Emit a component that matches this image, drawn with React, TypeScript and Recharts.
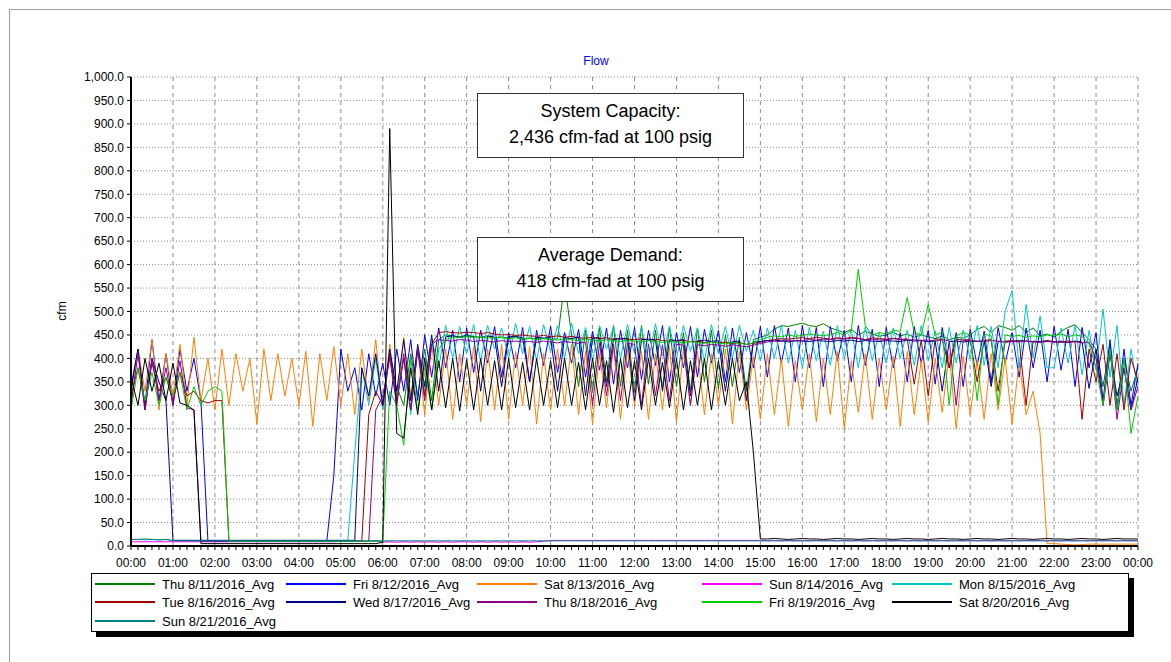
import React from 'react';
import { LineChart, Line, XAxis, YAxis, CartesianGrid } from 'recharts';

// 10-minute samples, 00:00 .. 24:00 (145 points per day)
const minutes = Array.from({ length: 145 }, (_, i) => i * 10);
const hourTicks = minutes.filter((m) => m % 60 === 0);
const yTicks = [0, 50, 100, 150, 200, 250, 300, 350, 400, 450, 500, 550, 600, 650, 700, 750, 800, 850, 900, 950, 1000];

const thu11 = [
  null, null, null, null, null, null,
  null, null, null, null, null, null,
  null, null, null, null, null, null,
  null, null, null, null, null, null,
  null, null, null, null, null, null,
  null, null, null, null, null, null,
  null, null, 340, 300, 410, 320,
  420, 310, 440, 450, 448, 446,
  450, 447, 445, 448, 444, 446,
  443, 446, 440, 444, 441, 443,
  440, 442, 560, 450, 340, 460,
  330, 465, 350, 470, 340, 460,
  330, 470, 345, 460, 335, 468,
  340, 455, 330, 465, 350, 460,
  335, 450, 340, 445, 330, 440,
  445, 450, 462, 470, 468, 472,
  475, 470, 468, 474, 465, 460,
  455, 462, 450, 458, 452, 447,
  450, 456, 448, 452, 445, 450,
  446, 442, 448, 440, 445, 443,
  450, 462, 468, 455, 470, 466,
  460, 470, 455, 465, 448, 452,
  445, 458, 466, 472, 455, 440,
  420, 340, 430, 300, 400, 330,
  380,
];

const fri12 = [
  330, 420, 300, 440, 310, 410,
  300, 420, 330, 400, 310, 10,
  10, 10, 10, 10, 10, 10,
  10, 10, 10, 10, 10, 10,
  10, 10, 10, 10, 10, 150,
  420, 330, 380, 290, 410, 320,
  390, 300, 420, 330, 440, 310,
  450, 360, 465, 380, 460, 350,
  465, 370, 460, 390, 468, 360,
  455, 380, 466, 350, 460, 385,
  468, 370, 455, 390, 462, 360,
  458, 375, 465, 345, 460, 380,
  466, 355, 460, 385, 470, 350,
  455, 380, 468, 360, 462, 390,
  460, 350, 465, 370, 455, 380,
  468, 360, 470, 390, 465, 350,
  470, 380, 466, 340, 468, 395,
  460, 350, 470, 385, 462, 340,
  466, 380, 455, 350, 468, 390,
  460, 345, 466, 380, 455, 340,
  462, 385, 458, 350, 466, 390,
  455, 360, 465, 380, 460, 350,
  468, 375, 462, 340, 466, 380,
  455, 310, 440, 290, 420, 300,
  390,
];

const sat13 = [
  300, 420, 330, 440, 290, 410,
  320, 430, 300, 445, 310, 400,
  290, 420, 300, 410, 330, 400,
  260, 420, 310, 410, 320, 400,
  300, 415, 255, 410, 310, 425,
  300, 410, 280, 420, 310, 440,
  290, 430, 300, 445, 320, 420,
  280, 430, 300, 420, 270, 410,
  300, 425, 265, 420, 290, 430,
  270, 415, 300, 425, 260, 410,
  290, 420, 300, 430, 280, 415,
  260, 410, 295, 425, 270, 420,
  300, 415, 270, 410, 290, 425,
  265, 420, 300, 415, 280, 410,
  300, 420, 260, 415, 290, 405,
  270, 410, 280, 400, 255, 395,
  290, 410, 265, 400, 280, 415,
  250, 395, 285, 410, 270, 400,
  290, 405, 255, 415, 280, 395,
  265, 400, 285, 410, 250, 405,
  280, 395, 270, 410, 290, 400,
  260, 395, 280, 330, 240, 5,
  5, 4, 3, 2, 3, 4,
  4, 4, 4, 4, 4, 4,
  4,
];

const sun14 = [
  9, 9, 9, 9, 9, 9,
  9, 9, 9, 9, 9, 9,
  9, 9, 9, 9, 9, 9,
  9, 9, 9, 9, 9, 9,
  9, 9, 9, 9, 9, 9,
  10, 11, 12, 11, 10, 12,
  8, 9, 8, 9, 8, 9,
  8, 9, 8, 9, 8, 9,
  9, 8, 9, 8, 9, 8,
  9, 8, 9, 8, 9, 10,
  12, 12, 12, 12, 12, 12,
  12, 12, 12, 12, 12, 12,
  12, 12, 12, 12, 12, 12,
  12, 12, 12, 12, 12, 12,
  12, 12, 12, 12, 12, 12,
  12, 11, 12, 11, 12, 11,
  12, 11, 12, 11, 12, 11,
  12, 11, 12, 11, 12, 11,
  12, 11, 12, 11, 12, 11,
  12, 11, 12, 11, 12, 11,
  12, 11, 12, 11, 12, 11,
  12, 11, 12, 11, 12, 11,
  12, 11, 12, 11, 12, 11,
  12, 11, 12, 11, 12, 11,
  12,
];

const mon15 = [
  14, 14, 13, 14, 13, 14,
  12, 12, 12, 12, 12, 12,
  12, 12, 12, 12, 12, 12,
  12, 12, 12, 12, 12, 12,
  12, 12, 12, 12, 12, 12,
  12, 12, 200, 380, 300, 400,
  290, 410, 320, 400, 280, 420,
  330, 440, 380, 470, 400, 468,
  410, 472, 395, 470, 420, 465,
  400, 474, 410, 468, 395, 472,
  415, 470, 400, 475, 410, 466,
  395, 470, 420, 468, 400, 472,
  410, 466, 395, 474, 405, 468,
  400, 470, 415, 465, 395, 472,
  410, 468, 400, 470, 415, 460,
  395, 465, 400, 470, 390, 460,
  380, 466, 395, 458, 385, 470,
  400, 462, 380, 468, 395, 455,
  390, 465, 400, 460, 385, 470,
  395, 458, 380, 466, 390, 460,
  400, 470, 385, 468, 380, 500,
  545, 380, 515, 400, 490, 380,
  380, 465, 390, 470, 365, 460,
  375, 505, 360, 470, 300, 420,
  330,
];

const tue16 = [
  320, 380, 300, 390, 330, 360,
  310, 370, 320, 330, 310, 305,
  310, 310, 12, 10, 10, 10,
  10, 10, 10, 10, 10, 10,
  10, 10, 10, 10, 10, 10,
  10, 10, 10, 10, 280, 330,
  300, 410, 310, 400, 290, 420,
  320, 430, 455, 457, 455, 454,
  456, 455, 453, 455, 452, 450,
  451, 449, 450, 448, 447, 449,
  446, 448, 445, 447, 444, 443,
  445, 442, 444, 440, 443, 441,
  440, 442, 439, 441, 438, 436,
  437, 439, 435, 437, 434, 436,
  433, 435, 432, 434, 430, 432,
  435, 438, 440, 442, 441, 443,
  444, 442, 445, 443, 441, 444,
  442, 445, 443, 440, 444, 442,
  441, 443, 440, 442, 345, 440,
  320, 442, 440, 380, 441, 439,
  440, 350, 438, 440, 330, 437,
  438, 436, 300, 437, 435, 438,
  436, 434, 437, 435, 270, 420,
  350, 430, 300, 410, 290, 400,
  350,
];

const wed17 = [
  340, 420, 290, 400, 350, 310,
  12, 12, 12, 12, 12, 12,
  12, 12, 12, 12, 12, 12,
  12, 12, 12, 12, 12, 12,
  12, 12, 12, 12, 12, 12,
  12, 12, 12, 380, 320, 410,
  300, 420, 330, 440, 310, 430,
  340, 450, 330, 446, 448, 445,
  447, 446, 330, 448, 445, 340,
  446, 447, 444, 350, 445, 443,
  445, 330, 444, 442, 446, 320,
  443, 444, 340, 442, 441, 443,
  310, 440, 441, 439, 330, 440,
  438, 440, 320, 437, 439, 436,
  438, 330, 436, 437, 310, 435,
  436, 438, 437, 439, 435, 438,
  437, 436, 438, 437, 436, 438,
  437, 439, 436, 438, 437, 436,
  438, 437, 436, 439, 437, 438,
  436, 437, 330, 436, 437, 435,
  437, 436, 438, 340, 436, 435,
  436, 438, 437, 435, 436, 437,
  435, 436, 434, 437, 435, 336,
  420, 300, 410, 320, 380, 290,
  360,
];

const thu18 = [
  300, 410, 290, 400, 310, 380,
  300, 395, 295, 290, 10, 10,
  10, 10, 10, 10, 10, 10,
  10, 10, 10, 10, 10, 10,
  10, 10, 10, 10, 10, 10,
  10, 10, 10, 10, 10, 290,
  320, 400, 300, 410, 290, 420,
  310, 430, 440, 438, 437, 440,
  439, 436, 438, 437, 435, 438,
  436, 437, 435, 436, 434, 437,
  435, 433, 436, 434, 432, 435,
  300, 433, 320, 431, 310, 432,
  430, 300, 431, 320, 429, 310,
  430, 428, 300, 429, 427, 430,
  428, 426, 429, 427, 425, 428,
  432, 435, 437, 436, 438, 437,
  438, 440, 439, 441, 440, 442,
  441, 443, 442, 440, 441, 439,
  440, 442, 441, 439, 440, 438,
  439, 437, 440, 438, 300, 439,
  438, 437, 436, 438, 437, 435,
  436, 435, 437, 436, 434, 436,
  435, 437, 434, 436, 433, 435,
  400, 300, 420, 270, 380, 290,
  340,
];

const fri19 = [
  290, 380, 310, 370, 300, 360,
  320, 370, 290, 340, 300, 330,
  340, 330, 10, 10, 10, 10,
  10, 10, 10, 10, 10, 10,
  10, 10, 10, 10, 10, 10,
  10, 10, 10, 10, 10, 10,
  10, 330, 300, 215, 400, 290,
  380, 290, 420, 440, 446, 444,
  447, 445, 446, 443, 445, 444,
  442, 444, 441, 443, 440, 442,
  441, 439, 442, 440, 438, 441,
  439, 437, 440, 438, 436, 439,
  437, 435, 438, 436, 434, 437,
  435, 433, 436, 434, 432, 435,
  433, 431, 434, 432, 430, 433,
  440, 445, 448, 446, 450, 447,
  449, 452, 450, 448, 451, 455,
  450, 460, 590, 470, 450, 455,
  452, 460, 458, 530, 455, 450,
  515, 450, 456, 300, 448, 455,
  450, 310, 452, 448, 300, 450,
  447, 449, 445, 448, 446, 450,
  448, 452, 446, 450, 447, 430,
  380, 300, 420, 290, 400, 240,
  320,
];

const sat20 = [
  360, 300, 400, 330, 390, 310,
  390, 305, 300, 290, 5, 5,
  5, 5, 5, 5, 5, 5,
  5, 5, 5, 5, 5, 5,
  5, 5, 5, 5, 5, 5,
  5, 5, 5, 5, 5, 5,
  8, 890, 240, 230, 380, 280,
  400, 290, 395, 295, 400, 288,
  398, 290, 400, 300, 395, 290,
  400, 295, 392, 290, 400, 300,
  395, 295, 400, 300, 392, 290,
  400, 300, 395, 285, 400, 295,
  395, 290, 400, 300, 392, 295,
  400, 290, 395, 300, 400, 290,
  395, 300, 400, 310, 350, 200,
  15, 15, 16, 15, 14, 15,
  16, 15, 15, 14, 15, 16,
  15, 15, 14, 15, 16, 15,
  15, 14, 15, 16, 15, 15,
  14, 15, 16, 15, 15, 14,
  15, 16, 15, 15, 14, 15,
  16, 15, 15, 14, 15, 16,
  15, 15, 14, 15, 16, 15,
  15, 14, 15, 16, 15, 15,
  15,
];

const sun21 = [
  14, 14, 15, 14, 13, 14,
  11, 11, 11, 11, 11, 11,
  11, 11, 11, 11, 11, 11,
  11, 11, 11, 11, 11, 11,
  11, 11, 11, 11, 11, 11,
  11, 11, 11, 11, 11, 11,
  11, 11, 11, 11, 11, 11,
  11, 11, 11, 11, 11, 11,
  11, 11, 11, 11, 11, 11,
  11, 11, 11, 11, 11, 11,
  11, 11, 11, 11, 11, 11,
  11, 11, 11, 11, 11, 11,
  11, 11, 11, 11, 11, 11,
  11, 11, 11, 11, 11, 11,
  11, 11, 11, 11, 11, 11,
  11, 11, 11, 11, 11, 11,
  11, 11, 11, 11, 11, 11,
  11, 11, 11, 11, 11, 11,
  11, 11, 11, 11, 11, 11,
  11, 11, 11, 11, 11, 11,
  11, 11, 11, 11, 11, 11,
  11, 11, 11, 11, 11, 11,
  11, 11, 11, 11, 11, 11,
  11, 11, 11, 11, 11, 11,
  11,
];

const series = [
  { key: 'thu11', name: 'Thu 8/11/2016_Avg', color: '#008000', values: thu11 },
  { key: 'fri12', name: 'Fri 8/12/2016_Avg', color: '#0000ff', values: fri12 },
  { key: 'sat13', name: 'Sat 8/13/2016_Avg', color: '#ff8000', values: sat13 },
  { key: 'sun14', name: 'Sun 8/14/2016_Avg', color: '#ff00ff', values: sun14 },
  { key: 'mon15', name: 'Mon 8/15/2016_Avg', color: '#00c8c8', values: mon15 },
  { key: 'tue16', name: 'Tue 8/16/2016_Avg', color: '#a00000', values: tue16 },
  { key: 'wed17', name: 'Wed 8/17/2016_Avg', color: '#000080', values: wed17 },
  { key: 'thu18', name: 'Thu 8/18/2016_Avg', color: '#8b008b', values: thu18 },
  { key: 'fri19', name: 'Fri 8/19/2016_Avg', color: '#00cc00', values: fri19 },
  { key: 'sat20', name: 'Sat 8/20/2016_Avg', color: '#000000', values: sat20 },
  { key: 'sun21', name: 'Sun 8/21/2016_Avg', color: '#008080', values: sun21 },
];

const data = minutes.map((t, i) => {
  const row: any = { t };
  series.forEach((s) => (row[s.key] = s.values[i]));
  return row;
});

// legend column starts (line sample x, text x) per column
const legendCols = [95, 286, 477, 702, 892];
const legendRows = [584, 602, 621];

const font = '"Liberation Sans", Arial, sans-serif';

const hhmm = (m: number) => String(Math.floor(m / 60) % 24).padStart(2, '0') + ':00';

const TimeTick = (props: any) => {
  const { x, y, payload } = props;
  const onHour = payload.value % 60 === 0;
  return (
    <g>
      <line x1={x} x2={x} y1={y - 8} y2={y - 4} stroke="#000" />
      {onHour && (
        <text x={x} y={y + 4} dy="0.71em" textAnchor="middle" fontSize={12} fill="#000">
          {hhmm(payload.value)}
        </text>
      )}
    </g>
  );
};

const Note = ({ top, lines }: { top: number; lines: string[] }) => (
  <div
    style={{
      position: 'absolute', left: 477, top, width: 265, height: 59,
      border: '1px solid #333', background: '#fff', textAlign: 'center',
      fontSize: 18, lineHeight: '26px', paddingTop: 4, boxSizing: 'content-box' as const,
      color: '#000',
    }}
  >
    {lines.map((l) => (
      <div key={l}>{l}</div>
    ))}
  </div>
);

export default function App() {
  return (
    <div style={{ position: 'absolute', left: 0, top: 0, width: 1171, height: 662, background: '#fff', fontFamily: font, overflow: 'hidden' }}>
      <div style={{ position: 'absolute', left: 9, top: 9, width: 1200, height: 700, borderLeft: '1px solid #a0a0a0', borderTop: '1px solid #a0a0a0' }} />
      <div style={{ position: 'absolute', left: 546, width: 100, top: 54, textAlign: 'center', fontSize: 12, color: '#0000ff' }}>Flow</div>
      <div style={{ position: 'absolute', left: 52, top: 304, fontSize: 12, transform: 'rotate(-90deg)', color: '#000' }}>cfm</div>
      <div style={{ position: 'absolute', left: 0, top: 0 }}>
        <LineChart width={1171} height={662} data={data} margin={{ top: 77, right: 33, left: 71, bottom: 86 }} style={{ fontFamily: font }}>
          <CartesianGrid horizontal vertical={false} stroke="#8c8c8c" strokeDasharray="1 2" />
          <CartesianGrid horizontal={false} vertical verticalValues={hourTicks} stroke="#8c8c8c" strokeDasharray="4 4" />
          <XAxis
            dataKey="t"
            type="number"
            domain={[0, 1440]}
            ticks={minutes}
            interval={0}
            tickLine={false}
            tick={<TimeTick />}
            height={30}
            axisLine={{ stroke: '#000', strokeWidth: 2 }}
          />
          <YAxis
            domain={[0, 1000]}
            ticks={yTicks}
            interval={0}
            width={60}
            tickSize={4}
            tickMargin={3}
            tick={{ fontSize: 12, fill: '#000' }}
            tickLine={{ stroke: '#000' }}
            tickFormatter={(v: number) => v.toLocaleString('en-US', { minimumFractionDigits: 1, maximumFractionDigits: 1 })}
            axisLine={{ stroke: '#000', strokeWidth: 2 }}
          />
          {series.map((s) => (
            <Line
              key={s.key}
              dataKey={s.key}
              name={s.name}
              type="linear"
              stroke={s.color}
              strokeWidth={1}
              dot={false}
              isAnimationActive={false}
            />
          ))}
        </LineChart>
      </div>
      <Note top={93} lines={['System Capacity:', '2,436 cfm-fad at 100 psig']} />
      <Note top={237} lines={['Average Demand:', '418 cfm-fad at 100 psig']} />
      <div
        style={{
          position: 'absolute', left: 91, top: 573, width: 1036, height: 57,
          border: '1px solid #000', background: '#fff', boxShadow: '5px 5px 0 #000',
        }}
      />
      {series.map((s, i) => {
        const col = i % 5;
        const row = Math.floor(i / 5);
        const x = legendCols[col];
        const y = legendRows[row];
        return (
          <div key={s.key} style={{ position: 'absolute', left: x, top: y - 9, height: 18, display: 'flex', alignItems: 'center', fontSize: 13, color: '#000', whiteSpace: 'nowrap' }}>
            <div style={{ width: 60, height: 0, borderTop: `2px solid ${s.color}`, marginRight: 7 }} />
            <span>{s.name}</span>
          </div>
        );
      })}
    </div>
  );
}
